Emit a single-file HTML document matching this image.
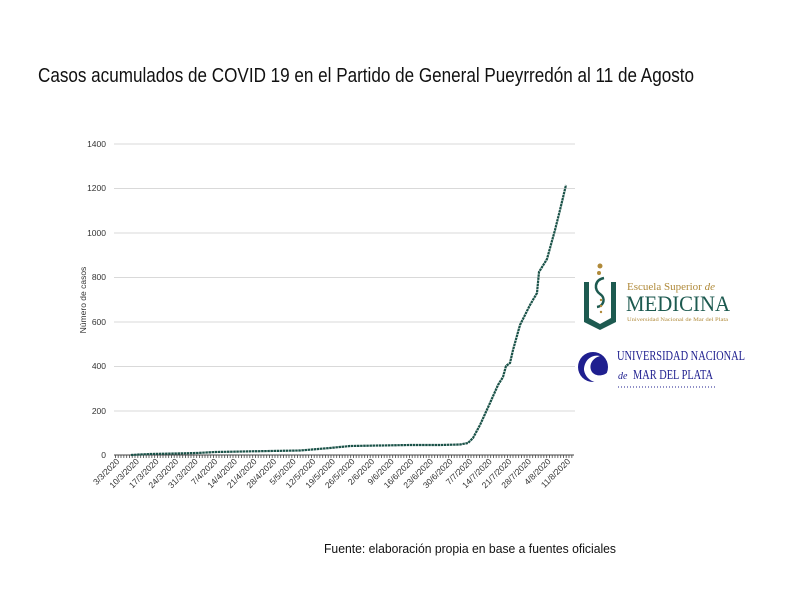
<!DOCTYPE html>
<html><head><meta charset="utf-8"><style>
body{margin:0;background:#fff;}
svg{display:block;font-family:"Liberation Sans",sans-serif;}
</style></head><body>
<svg width="800" height="600" viewBox="0 0 800 600">
<defs>
<pattern id="tk" x="115" y="455" width="2.8" height="4" patternUnits="userSpaceOnUse">
<rect x="0" y="0" width="0.8" height="3" fill="#444"/></pattern>
</defs>
<text x="38" y="82" font-size="20" fill="#111" textLength="656" lengthAdjust="spacingAndGlyphs">Casos acumulados de COVID 19 en el Partido de General Pueyrredón al 11 de Agosto</text>
<g stroke="#d9d9d9" stroke-width="1">
<line x1="114" y1="144" x2="575" y2="144"/>
<line x1="114" y1="188.5" x2="575" y2="188.5"/>
<line x1="114" y1="233" x2="575" y2="233"/>
<line x1="114" y1="277.5" x2="575" y2="277.5"/>
<line x1="114" y1="322" x2="575" y2="322"/>
<line x1="114" y1="366.5" x2="575" y2="366.5"/>
<line x1="114" y1="411" x2="575" y2="411"/>
</g>
<line x1="114" y1="455" x2="574" y2="455" stroke="#444" stroke-width="1"/>
<rect x="115" y="455" width="459" height="3" fill="url(#tk)"/>
<g font-size="8.5" fill="#333" text-anchor="end">
<text x="106" y="147">1400</text><text x="106" y="191">1200</text><text x="106" y="236">1000</text>
<text x="106" y="280">800</text><text x="106" y="325">600</text><text x="106" y="369">400</text>
<text x="106" y="414">200</text><text x="106" y="458">0</text>
</g>
<text transform="translate(86,300) rotate(-90)" font-size="8.5" fill="#333" text-anchor="middle">Número de casos</text>
<g font-size="8.5" fill="#333" text-anchor="end">
<text transform="translate(120,462) rotate(-45)">3/3/2020</text>
<text transform="translate(139.6,462) rotate(-45)">10/3/2020</text>
<text transform="translate(159.2,462) rotate(-45)">17/3/2020</text>
<text transform="translate(178.8,462) rotate(-45)">24/3/2020</text>
<text transform="translate(198.4,462) rotate(-45)">31/3/2020</text>
<text transform="translate(218,462) rotate(-45)">7/4/2020</text>
<text transform="translate(237.6,462) rotate(-45)">14/4/2020</text>
<text transform="translate(257.2,462) rotate(-45)">21/4/2020</text>
<text transform="translate(276.8,462) rotate(-45)">28/4/2020</text>
<text transform="translate(296.4,462) rotate(-45)">5/5/2020</text>
<text transform="translate(316,462) rotate(-45)">12/5/2020</text>
<text transform="translate(335.6,462) rotate(-45)">19/5/2020</text>
<text transform="translate(355.2,462) rotate(-45)">26/5/2020</text>
<text transform="translate(374.8,462) rotate(-45)">2/6/2020</text>
<text transform="translate(394.4,462) rotate(-45)">9/6/2020</text>
<text transform="translate(414,462) rotate(-45)">16/6/2020</text>
<text transform="translate(433.6,462) rotate(-45)">23/6/2020</text>
<text transform="translate(453.2,462) rotate(-45)">30/6/2020</text>
<text transform="translate(472.8,462) rotate(-45)">7/7/2020</text>
<text transform="translate(492.4,462) rotate(-45)">14/7/2020</text>
<text transform="translate(512,462) rotate(-45)">21/7/2020</text>
<text transform="translate(531.6,462) rotate(-45)">28/7/2020</text>
<text transform="translate(551.2,462) rotate(-45)">4/8/2020</text>
<text transform="translate(570.8,462) rotate(-45)">11/8/2020</text>
</g>
<polyline fill="none" stroke="#1a5248" stroke-width="2.2" stroke-linejoin="round" stroke-dasharray="2.5,0.6"
points="131,455 140,454.5 150,454 175,453.5 197,453 215,452 242,451.5 270,451 300,450.5 330,448 350,446 380,445.5 410,445 440,445 460,444.5 468,443 473,438 480,425 490,403 498,385 503,377 506,366 510,363 513,350 520,325 530,305 537,293 539,272 547,259 555,230 560,210 566,185"/>
<g>
<path d="M584,282 L584,322 L600,330 L616,322 L616,282 L611,282 L611,318 L600,324 L589,318 L589,282 Z" fill="#1d5a50"/>
<circle cx="600" cy="266" r="2.5" fill="#b08a3a"/><circle cx="599" cy="273" r="2" fill="#b08a3a"/>
<path d="M604,278 C594,280 594,290 600,294 C606,298 604,306 597,307" fill="none" stroke="#1d5a50" stroke-width="2.5"/>
<circle cx="601" cy="300" r="1.2" fill="#b08a3a"/><circle cx="601" cy="306" r="1.2" fill="#b08a3a"/><circle cx="601" cy="312" r="1.2" fill="#b08a3a"/>
<text x="627" y="290" font-family="Liberation Serif,serif" font-size="11" fill="#b08a3a">Escuela Superior <tspan font-style="italic">de</tspan></text>
<text x="626" y="311" font-family="Liberation Serif,serif" font-size="22" fill="#1d5a50" textLength="104" lengthAdjust="spacingAndGlyphs">MEDICINA</text>
<text x="627" y="321" font-family="Liberation Serif,serif" font-size="5" fill="#b08a3a" textLength="101" lengthAdjust="spacingAndGlyphs">Universidad Nacional de Mar del Plata</text>
</g>
<g>
<circle cx="593" cy="367" r="15" fill="#1f1f8f"/>
<path d="M600,356 C592,358 588,366 592,372 C596,377 604,376 608,372 L608,380 C600,386 586,382 584,370 C584,360 592,354 600,356 Z" fill="#fff"/>
<text x="617" y="360" font-family="Liberation Serif,serif" font-size="14" fill="#1f1f8f" textLength="128" lengthAdjust="spacingAndGlyphs">UNIVERSIDAD NACIONAL</text>
<text x="618" y="379" font-family="Liberation Serif,serif" font-size="10" font-style="italic" fill="#1f1f8f">de</text>
<text x="633" y="379" font-family="Liberation Serif,serif" font-size="14" fill="#1f1f8f" textLength="80" lengthAdjust="spacingAndGlyphs">MAR DEL PLATA</text>
<line x1="618" y1="387" x2="716" y2="387" stroke="#1f1f8f" stroke-width="1" stroke-dasharray="1,2"/>
</g>
<text x="324" y="553" font-size="12.5" fill="#111" textLength="292" lengthAdjust="spacingAndGlyphs">Fuente: elaboración propia en base a fuentes oficiales</text>
</svg>
</body></html>
